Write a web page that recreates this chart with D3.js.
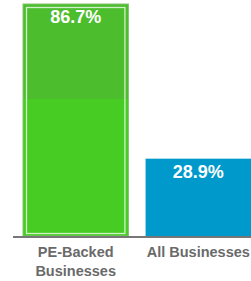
<!DOCTYPE html>
<html>
<head>
    <script src="https://d3js.org/d3.v7.min.js"></script>
    <style>
        body { margin: 0; background: #fff; }
        svg { display: block; font-family: "Liberation Sans", Arial, sans-serif; }
    </style>
</head>
<body>
    <svg width="251" height="281"></svg>
    <script>
        const categories = [["PE-Backed", "Businesses"], ["All Businesses"]];
        const values = [86.7, 28.9];
        const valueLabels = ["86.7%", "28.9%"];

        const svg = d3.select("svg");
        const baseline = 236;

        const x = d3.scaleBand()
            .domain(d3.range(values.length))
            .range([23, 251])
            .paddingInner(0.14)
            .paddingOuter(0);

        const y = d3.scaleLinear()
            .domain([0, d3.max(values)])
            .range([baseline, 4]);

        // two-tone green for the first bar
        const grad = svg.append("defs").append("linearGradient")
            .attr("id", "pe")
            .attr("x1", 0).attr("y1", 0).attr("x2", 0).attr("y2", 1);
        grad.append("stop").attr("offset", "41%").attr("stop-color", "#4cbd2c");
        grad.append("stop").attr("offset", "41%").attr("stop-color", "#46cc22");

        const fills = ["url(#pe)", "#0099cc"];

        svg.selectAll("rect.bar")
            .data(values)
            .join("rect")
            .attr("class", "bar")
            .attr("x", (d, i) => x(i))
            .attr("y", d => y(d))
            .attr("width", x.bandwidth())
            .attr("height", d => baseline - y(d))
            .attr("fill", (d, i) => fills[i])
            .attr("stroke", (d, i) => i === 0 ? "#82c270" : "none")
            .attr("stroke-width", 1);

        // inner white frame on the highlighted bar
        svg.append("rect")
            .attr("x", x(0) + 3.5)
            .attr("y", y(values[0]) + 3.5)
            .attr("width", x.bandwidth() - 7)
            .attr("height", baseline - y(values[0]) - 6)
            .attr("fill", "none")
            .attr("stroke", "#ffffff")
            .attr("stroke-opacity", 0.75)
            .attr("stroke-width", 1.3);

        // baseline
        svg.append("line")
            .attr("x1", 13).attr("x2", 251)
            .attr("y1", baseline + 1).attr("y2", baseline + 1)
            .attr("stroke", "#777")
            .attr("stroke-width", 2);

        // value labels
        svg.selectAll("text.val")
            .data(values)
            .join("text")
            .attr("class", "val")
            .attr("x", (d, i) => x(i) + x.bandwidth() / 2)
            .attr("y", d => y(d) + 19)
            .attr("text-anchor", "middle")
            .attr("fill", "#fff")
            .style("font-size", "18px")
            .style("font-weight", "bold")
            .text((d, i) => valueLabels[i]);

        // category labels
        const cat = svg.selectAll("text.cat")
            .data(categories)
            .join("text")
            .attr("class", "cat")
            .attr("x", (d, i) => x(i) + x.bandwidth() / 2)
            .attr("y", 257)
            .attr("text-anchor", "middle")
            .attr("fill", "#6a6a6a")
            .style("font-size", "14.5px")
            .style("font-weight", "bold");

        cat.selectAll("tspan")
            .data(d => d)
            .join("tspan")
            .attr("x", function() { return d3.select(this.parentNode).attr("x"); })
            .attr("dy", (d, j) => j === 0 ? 0 : 19)
            .text(d => d);
    </script>
</body>
</html>
